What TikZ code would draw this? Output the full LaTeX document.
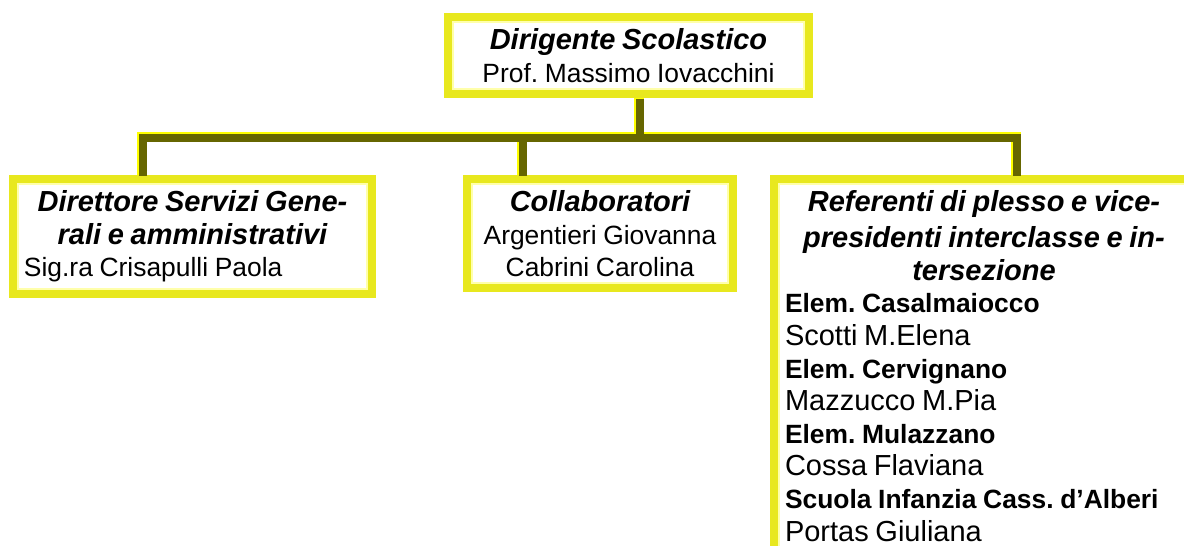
\documentclass[tikz,border=0pt]{standalone}
\usepackage{fontspec}
\setmainfont{Liberation Sans}
\usetikzlibrary{calc}
\frenchspacing

\definecolor{boxyellow}{RGB}{232,232,30}
\definecolor{boxpale}{RGB}{255,255,170}
\definecolor{lineolive}{RGB}{102,102,0}
\definecolor{linelight}{RGB}{255,255,0}

\newcommand{\boxhead}{\fontsize{14.5pt}{16.3pt}\selectfont\bfseries\itshape}
\newcommand{\boxtext}{\normalfont\fontsize{13.2pt}{16.3pt}\selectfont}
\newcommand{\boxname}{\normalfont\fontsize{14.5pt}{16.3pt}\selectfont}
\newcommand{\boxplace}{\normalfont\fontsize{13.2pt}{16.3pt}\selectfont\bfseries}

\begin{document}
\begin{tikzpicture}[x=0.5pt,y=-0.5pt,
  orgbox/.style={draw=boxyellow,line width=4pt,fill=white,anchor=north west,
    inner xsep=5.5pt,inner ysep=5.75pt},
  paleline/.style={draw=boxpale,line width=1pt},
  connhi/.style={draw=linelight,line width=5pt},
  conn/.style={draw=lineolive,line width=4pt,
    transform canvas={xshift=0.5pt,yshift=-0.5pt}}]
  \useasboundingbox (0,0) rectangle (1184,546);
  \clip (0,0) rectangle (1184,546);

  \node[orgbox,minimum width=180.5pt,minimum height=38pt,text width=169.5pt] (ds) at (444,13)
    {\centering{\boxhead Dirigente Scolastico\par}\boxtext Prof. Massimo Iovacchini\par};

  \node[orgbox,minimum width=179.5pt,minimum height=54.5pt,text width=168.5pt] (dsga) at (9,175)
    {{\centering\boxhead Direttore Servizi Gene-\\rali e amministrativi\par}
     \boxtext Sig.ra Crisapulli Paola\par};

  \node[orgbox,minimum width=133pt,minimum height=54.5pt,text width=122pt] (collab) at (463,175)
    {\centering{\boxhead Collaboratori\par}\boxtext Argentieri Giovanna\\Cabrini Carolina\par};

  \node[orgbox,text width=199pt] (refer) at (770,175)
    {\vspace*{1.75pt}{\centering\boxhead Referenti di plesso e vice-\\presidenti interclasse e in-\\tersezione\par}
     \boxplace Elem. Casalmaiocco\par
     \boxname Scotti M.Elena\par
     \boxplace Elem. Cervignano\par
     \boxname Mazzucco M.Pia\par
     \boxplace Elem. Mulazzano\par
     \boxname Cossa Flaviana\par
     \boxplace Scuola Infanzia Cass. d’Alberi\par
     \boxname Portas Giuliana\par};

  % inner pale frame
  \foreach \n in {ds,dsga,collab,refer}
    \draw[paleline] ([shift={(9,9)}]\n.north west) rectangle ([shift={(-9,-9)}]\n.south east);

  % joints of the tree
  \coordinate (j0) at (639,136.5);
  \coordinate (j1) at (142,136.5);
  \coordinate (j2) at (522,136.5);
  \coordinate (j3) at (1016,136.5);

  \foreach \s in {connhi,conn} {
    \draw[\s] (ds.south -| j0) -- (j0);
    \draw[\s,line cap=rect] (j1) -- (j3);
    \foreach \j/\n in {j1/dsga,j2/collab,j3/refer}
      \draw[\s] (\j) -- (\j |- \n.north);
  }
\end{tikzpicture}
\end{document}
